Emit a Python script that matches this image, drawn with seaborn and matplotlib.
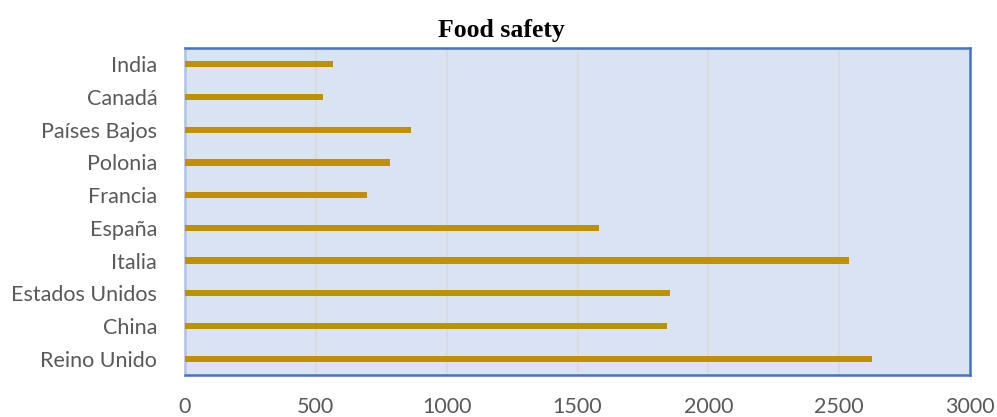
import matplotlib
matplotlib.use("Agg")
import matplotlib.pyplot as plt
import seaborn as sns
import pandas as pd

countries = ["India", "Canadá", "Países Bajos", "Polonia", "Francia",
             "España", "Italia", "Estados Unidos", "China", "Reino Unido"]
values = [567, 529, 862, 782, 697, 1582, 2537, 1853, 1843, 2625]
x_ticks = [0, 500, 1000, 1500, 2000, 2500, 3000]

df = pd.DataFrame({"country": countries, "value": values})

sns.set_theme(style="white")
plt.rcParams["font.family"] = ["Lato", "DejaVu Sans"]

fig = plt.figure(figsize=(9.97, 4.17), dpi=100)
ax = fig.add_axes([185 / 997, 1 - 375 / 417, (970 - 185) / 997, (375 - 48) / 417])
ax.set_facecolor("#DAE3F3")

sns.barplot(data=df, y="country", x="value", orient="h", color="#BF9000",
            saturation=1, width=0.19, linewidth=0, ax=ax, zorder=3)

ax.set_xlim(0, 3000)
ax.set_xticks(x_ticks)
ax.set_xticklabels([str(t) for t in x_ticks])
ax.set_ylim(9.5, -0.5)
ax.grid(axis="x", color="#D9D9D9", linewidth=1.2, zorder=0)
ax.set_axisbelow(True)
ax.set_xlabel("")
ax.set_ylabel("")

for side in ["top", "right", "bottom"]:
    ax.spines[side].set_color("#4472C4")
    ax.spines[side].set_linewidth(1.8)
ax.spines["left"].set_color("#B4C7E7")
ax.spines["left"].set_linewidth(2)

ax.tick_params(axis="y", length=0, pad=20, labelsize=15.5, labelcolor="#595959")
ax.tick_params(axis="x", length=0, pad=16, labelsize=15.5, labelcolor="#595959")

fig.text(0.503, 1 - 30 / 417, "Food safety", ha="center", va="center",
         fontsize=18.5, fontweight="bold", family=["Liberation Serif", "DejaVu Serif"],
         color="black")

fig.savefig("out.png", dpi=100)
